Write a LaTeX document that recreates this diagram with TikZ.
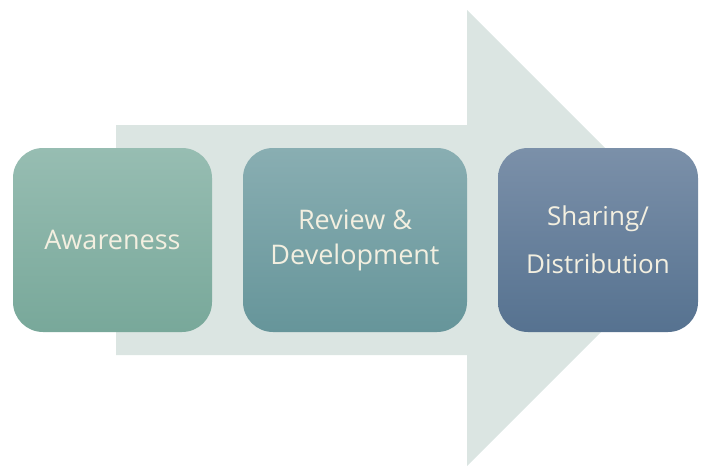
\documentclass[tikz,border=0pt]{standalone}
\usepackage{fontspec}
\setmainfont{Open Sans}
\usetikzlibrary{positioning}

\definecolor{arrowbg}{HTML}{DBE5E2}
\definecolor{txtcream}{HTML}{F3EFE0}
\definecolor{awaretop}{HTML}{97BDB2}
\definecolor{awarebot}{HTML}{78A89A}
\definecolor{reviewtop}{HTML}{89AEB2}
\definecolor{reviewbot}{HTML}{66959A}
\definecolor{sharetop}{HTML}{7B90A9}
\definecolor{sharebot}{HTML}{567290}

\begin{document}
\begin{tikzpicture}[x=1pt,y=-1pt,
stage/.style={rectangle, rounded corners=30pt, inner sep=0pt, minimum height=184pt,
  align=center, text=txtcream, font=\fontsize{27}{35}\selectfont},
bigarrow/.style={fill=arrowbg, draw=none}]

%% local variables
\def \midy {240}
\def \arrowtop {125}
\def \arrowbot {355}

\useasboundingbox (0,0) rectangle (704,466);

%% background arrow
\fill[bigarrow] (116,\arrowtop) -- (467,\arrowtop) -- (467,10) -- (695,238)
      -- (467,466) -- (467,\arrowbot) -- (116,\arrowbot) -- cycle;

%% place the three stages
\node[stage, minimum width=199pt, top color=awaretop, bottom color=awarebot]
      (aware) at (112.5,\midy) {Awareness};
\node[stage, minimum width=224pt, top color=reviewtop, bottom color=reviewbot]
      (review) at (355,\midy) {Review \&\\Development};
\node[stage, minimum width=200pt, top color=sharetop, bottom color=sharebot,
      font=\fontsize{26}{48}\selectfont]
      (share) at (598,\midy) {Sharing/\\Distribution};

\end{tikzpicture}
\end{document}
